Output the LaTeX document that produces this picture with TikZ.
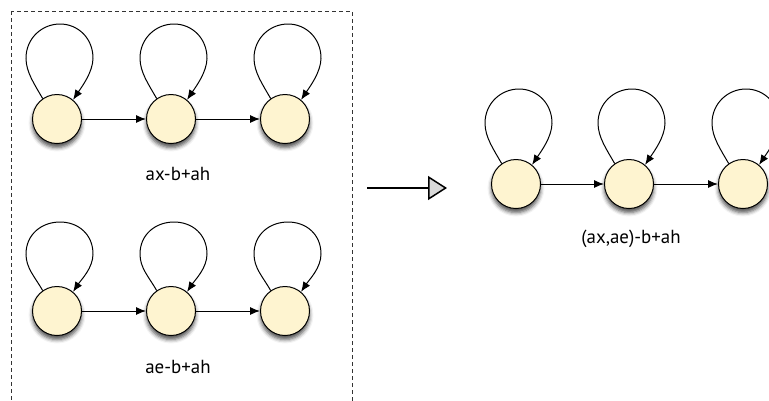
\documentclass[tikz,border=0pt]{standalone}
\usepackage{fontspec}
\setmainfont{PT Sans}
\usetikzlibrary{arrows.meta,shadows.blur}
\definecolor{statefill}{RGB}{254,244,208}
\tikzset{
  state/.style={circle, draw=black, line width=1bp, fill=statefill, minimum size=49bp, inner sep=0pt,
    blur shadow={shadow xshift=0bp, shadow yshift=-4bp, shadow blur radius=4bp, shadow opacity=70}},
  edge/.style={draw=black, line width=1bp, -{Latex[length=10bp,width=8bp]}},
  lbl/.style={font=\fontsize{19}{22}\selectfont, inner sep=0pt, anchor=base},
  frame/.style={draw=black!80, line width=0.8bp, dash pattern=on 4bp off 3bp},
  bigarrow/.style={draw=black, line width=1.5bp, -{Triangle[open, length=19bp, width=24bp, fill=black!15]}}
}
\newcommand\myloop[2]{%
  \draw[edge] (#1.125) .. controls +(-8,-14) and +(0,14) .. ([shift={(-31,-#2*0.64)}]#1.center)
    .. controls +(0,-20) and +(-18,0) .. ([shift={(3,-#2)}]#1.center)
    .. controls +(18,0) and +(0,-20) .. ([shift={(36,-#2*0.64)}]#1.center)
    .. controls +(0,14) and +(8,-12) .. (#1.50);}
\begin{document}
\begin{tikzpicture}[x=1bp,y=-1bp]
\useasboundingbox (0,0) rectangle (769,400);
\clip (0,0) rectangle (769,400);
\draw[frame] (11,11) rectangle (352,410);
% row 1
\node[state] (a1) at (57,119) {};
\node[state] (a2) at (171,119) {};
\node[state] (a3) at (285,119) {};
\node[lbl] (la) at (178,180) {ax-b+ah};
% row 2
\node[state] (b1) at (57,311) {};
\node[state] (b2) at (171,311) {};
\node[state] (b3) at (285,311) {};
\node[lbl] (lb) at (178,373) {ae-b+ah};
% right
\node[state] (c1) at (516,184) {};
\node[state] (c2) at (629,184) {};
\node[state] (c3) at (743,184) {};
\node[lbl] (lc) at (631,243) {(ax,ae)-b+ah};
\foreach \n in {a1,a2,a3,c1,c2,c3} {\myloop{\n}{95}}
\foreach \n in {b1,b2,b3} {\myloop{\n}{89}}
\draw[edge] (a1) -- (a2);
\draw[edge] (a2) -- (a3);
\draw[edge] (b1) -- (b2);
\draw[edge] (b2) -- (b3);
\draw[edge] (c1) -- (c2);
\draw[edge] (c2) -- (c3);
\coordinate (s) at (367,188);
\coordinate (t) at (447,188);
\draw[bigarrow] (s) -- (t);
\end{tikzpicture}
\end{document}
